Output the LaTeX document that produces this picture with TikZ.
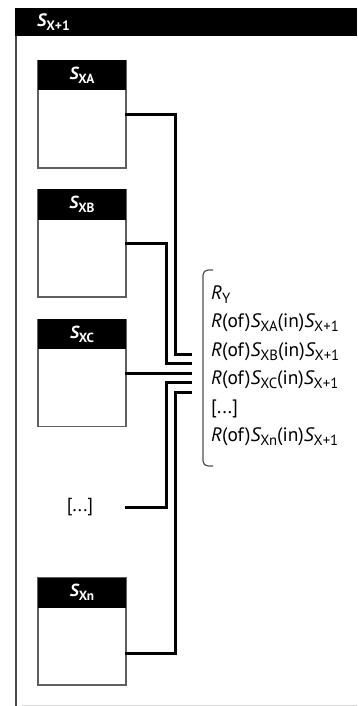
\documentclass[tikz,border=0pt]{standalone}
\usepackage{fontspec}
\setmainfont{PT Sans}
\usepackage{graphicx}
\newcommand\lowsub[1]{\raisebox{-0.45ex}{\scalebox{0.76}{#1}}}
\newcommand\setname[1]{{\itshape S}\lowsub{#1}}
\definecolor{framegray}{RGB}{70,70,70}
\definecolor{boxgray}{RGB}{95,95,95}
\definecolor{bracegray}{RGB}{80,80,80}
\begin{document}
\begin{tikzpicture}[x=1bp,y=-1bp,
  sbox/.style={draw=boxgray,line width=1.4bp,minimum width=88bp,minimum height=107bp,inner sep=0pt},
  shead/.style={fill=black,text=white,minimum width=88bp,minimum height=30bp,inner sep=0pt,
    font=\fontsize{17.5}{17.5}\selectfont\bfseries},
  wire/.style={line width=3bp,line cap=rect},
  reltext/.style={anchor=base west,inner sep=0pt,font=\fontsize{19.5}{19.5}\selectfont}]
% frame of S_{X+1}
\useasboundingbox (0,0) rectangle (357,706);
\draw[framegray,line width=1.3bp] (16,36) -- (16,706);
\draw[black!15,line width=0.8bp] (22,705) -- (357,705);
\fill (15,8) rectangle (357,36);
\node[anchor=west,text=white,inner sep=0pt,font=\fontsize{18}{18}\selectfont\bfseries] (sup) at (37,22) {\setname{X+1}};
% subsystems
\node[sbox] (sA) at (82,114.5) {};
\node[shead,anchor=north] (hA) at (sA.north) {\setname{XA}};
\node[sbox] (sB) at (82,243.5) {};
\node[shead,anchor=north] (hB) at (sB.north) {\setname{XB}};
\node[sbox] (sC) at (82,373) {};
\node[shead,anchor=north] (hC) at (sC.north) {\setname{XC}};
\node[font=\fontsize{19}{19}\selectfont] (dots) at (80,507) {[...]};
\node[sbox] (sN) at (82,631.5) {};
\node[shead,anchor=north] (hN) at (sN.north) {\setname{Xn}};
% bundle
\coordinate (tA) at (175,354);
\coordinate (jA) at (190,354);
\coordinate (tB) at (166,363.5);
\coordinate (jB) at (190,363.5);
\coordinate (jC) at (190,373);
\coordinate (dw) at (126,507);
\coordinate (tD) at (166,382.5);
\coordinate (jD) at (190,382.5);
\coordinate (nw) at ([yshift=-21.5bp]sN.east);
\coordinate (tN) at (175,392);
\coordinate (jN) at (190,392);
\draw[wire] (sA.east) -| (tA) -- (jA);
\draw[wire] (sB.east) -| (tB) -- (jB);
\draw[wire] (sC.east) -- (jC);
\draw[wire] (dw) -| (tD) -- (jD);
\draw[wire] (nw) -| (tN) -- (jN);
% relations
\draw[bracegray,line width=1.2bp,rounded corners=5bp] (213,270) -- (203,270) -- (203,466) -- (213,466);
\node[reltext] (rY) at (211,299) {{\itshape R}\lowsub{Y}};
\node[reltext] (rA) at (211,327.5) {{\itshape R}(of)\setname{XA}(in)\setname{X+1}};
\node[reltext] (rB) at (211,356) {{\itshape R}(of)\setname{XB}(in)\setname{X+1}};
\node[reltext] (rC) at (211,384.5) {{\itshape R}(of)\setname{XC}(in)\setname{X+1}};
\node[reltext] (rD) at (211,413) {[...]};
\node[reltext] (rN) at (211,441.5) {{\itshape R}(of)\setname{Xn}(in)\setname{X+1}};
\end{tikzpicture}
\end{document}
